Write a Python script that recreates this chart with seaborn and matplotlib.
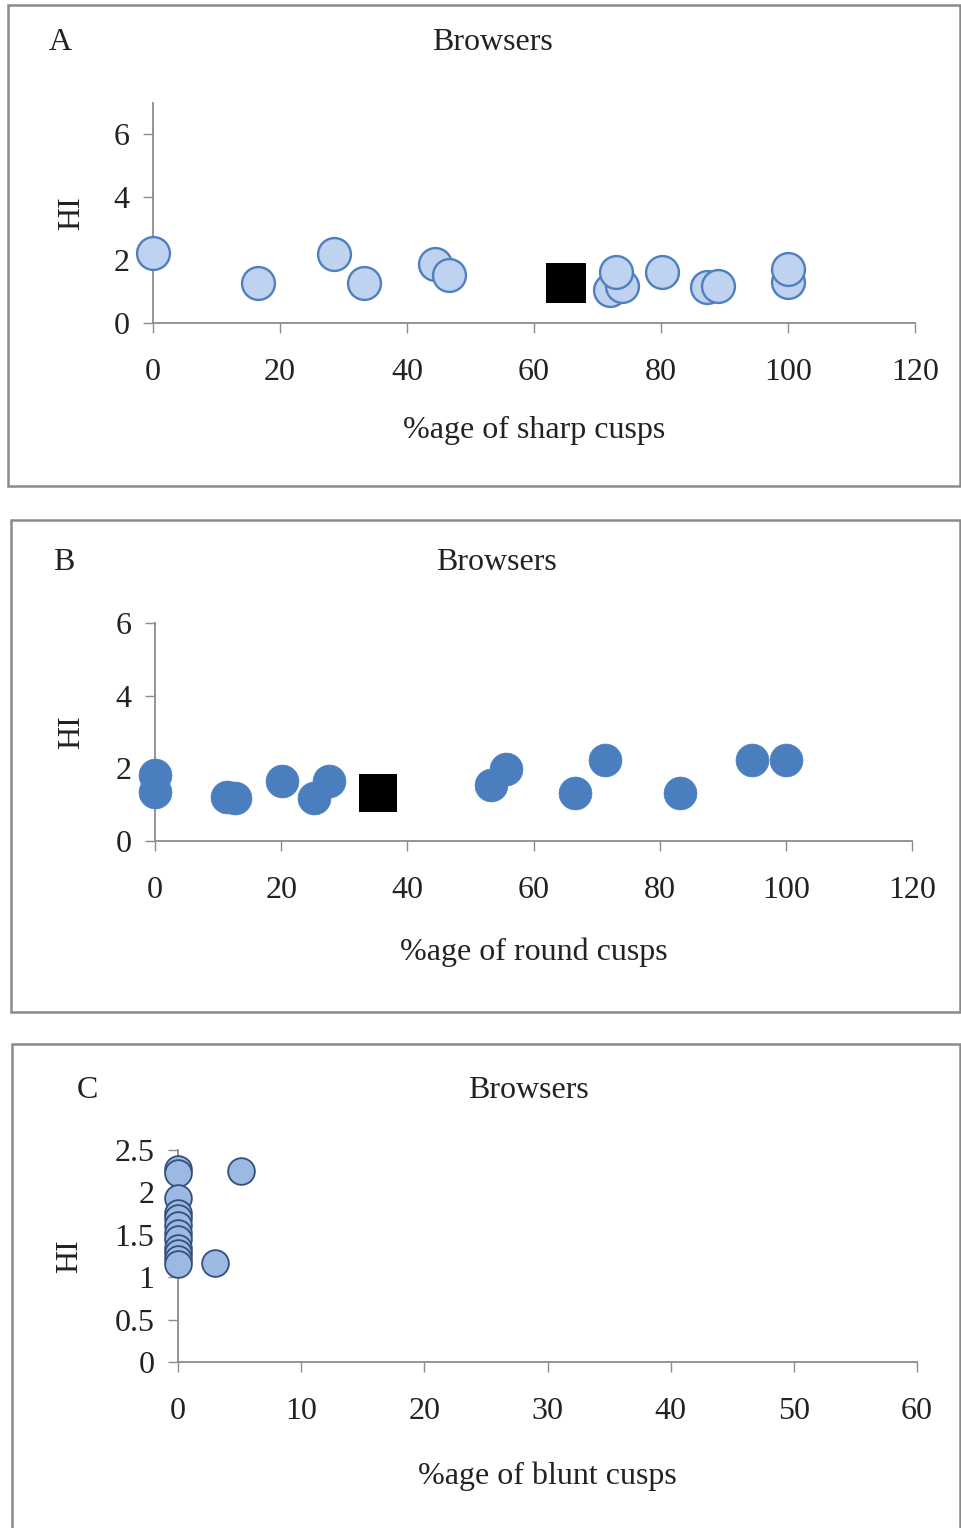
import numpy as np
import pandas as pd
import matplotlib
matplotlib.use("Agg")
import matplotlib.pyplot as plt
import matplotlib.patches as patches
import seaborn as sns

# values
sharp_pct = [0, 16.6, 28.5, 33.3, 44.4, 46.6, 71.9, 73.9, 72.9, 80.1, 87.2, 89.0, 100, 100]
sharp_hi = [2.22, 1.28, 2.18, 1.28, 1.88, 1.54, 1.06, 1.19, 1.62, 1.62, 1.14, 1.19, 1.30, 1.72]
sharp_mean = (65.0, 1.27)

round_pct = [0, 0, 11.4, 12.7, 20.1, 25.2, 27.6, 53.3, 55.7, 66.5, 71.3, 83.2, 94.7, 100]
round_hi = [1.81, 1.35, 1.21, 1.19, 1.65, 1.19, 1.66, 1.54, 1.97, 1.31, 2.24, 1.32, 2.24, 2.24]
round_mean = (35.4, 1.32)

blunt_pct = [0, 0, 0, 0, 0, 0, 0, 0, 0, 0, 0, 0, 3.0, 5.1]
blunt_hi = [2.28, 2.23, 1.93, 1.76, 1.70, 1.62, 1.52, 1.45, 1.35, 1.29, 1.22, 1.16, 1.17, 2.25]

sns.set_style("white")
plt.rcParams['font.family'] = ['Liberation Serif', 'DejaVu Serif']
plt.rcParams['font.size'] = 23

W, H = 961, 1528
fig = plt.figure(figsize=(W / 100, H / 100), dpi=100)


def fx(px):
    return px / W


def fy(py):
    return 1 - py / H


def frame(left, top, bottom, right=960):
    rect = patches.Rectangle((fx(left), fy(bottom)), fx(right) - fx(left), fy(top) - fy(bottom),
                             transform=fig.transFigure, fill=False, edgecolor='#8a8a8a', lw=1.8)
    fig.add_artist(rect)


def style_axes(ax, xlim, ylim, xticks, yticks, xlabel):
    ax.set_xlim(*xlim)
    ax.set_ylim(*ylim)
    ax.set_xticks(xticks)
    ax.set_yticks(yticks)
    ax.set_xticklabels([f"{t:g}" for t in xticks])
    ax.set_yticklabels([f"{t:g}" for t in yticks])
    for s in ['top', 'right']:
        ax.spines[s].set_visible(False)
    for s in ['left', 'bottom']:
        ax.spines[s].set_color('#8c8c8c')
        ax.spines[s].set_linewidth(1.3)
    ax.tick_params(axis='x', direction='out', length=7, width=1, color='#8c8c8c', pad=18,
                   labelcolor='#222222', bottom=True)
    ax.tick_params(axis='y', direction='out', length=7, width=1, color='#8c8c8c', pad=10,
                   labelcolor='#222222', left=True)
    ax.set_xlabel(xlabel, color='#222222', va='center')
    ax.set_ylabel("HI", color='#222222', va='center')
    ax.set_facecolor('none')
    ax.grid(False)


# ---- panel A
frame(8, 5, 486)
axA = fig.add_axes([fx(153), fy(323), fx(915) - fx(153), fy(103) - fy(323)])
dfA = pd.DataFrame({"pct": sharp_pct, "HI": sharp_hi})
sns.scatterplot(data=dfA, x="pct", y="HI", ax=axA, s=560, color='#bfd2ef',
                edgecolor='#4f7fbf', linewidth=1.7, zorder=3, clip_on=False)
sns.scatterplot(x=[sharp_mean[0]], y=[sharp_mean[1]], ax=axA, marker='s', s=830,
                color='black', edgecolor='black', linewidth=0, zorder=4)
style_axes(axA, (0, 120), (0, 7), range(0, 121, 20), range(0, 7, 2), "%age of sharp cusps")
axA.xaxis.set_label_coords(0.5, (323 - 430) / 220)
axA.yaxis.set_label_coords((72 - 153) / 762, 0.5)
fig.text(fx(60), fy(42), "A", ha='center', va='center', color='#222222')
fig.text(fx(492), fy(42), "Browsers", ha='center', va='center', color='#222222')

# ---- panel B
frame(11, 520, 1012)
axB = fig.add_axes([fx(155), fy(841), fx(912) - fx(155), fy(623) - fy(841)])
dfB = pd.DataFrame({"pct": round_pct, "HI": round_hi})
sns.scatterplot(data=dfB, x="pct", y="HI", ax=axB, s=560, color='#4a7ebf',
                edgecolor='#4a7ebf', linewidth=0.5, zorder=3, clip_on=False)
sns.scatterplot(x=[round_mean[0]], y=[round_mean[1]], ax=axB, marker='s', s=720,
                color='black', edgecolor='black', linewidth=0, zorder=4)
style_axes(axB, (0, 120), (0, 6), range(0, 121, 20), range(0, 7, 2), "%age of round cusps")
axB.xaxis.set_label_coords(0.5, (841 - 952) / 218)
axB.yaxis.set_label_coords((72 - 155) / 757, 0.5)
fig.text(fx(64), fy(562), "B", ha='center', va='center', color='#222222')
fig.text(fx(496), fy(562), "Browsers", ha='center', va='center', color='#222222')

# ---- panel C
frame(12, 1044, 1540)
axC = fig.add_axes([fx(178), fy(1362), fx(917) - fx(178), fy(1150) - fy(1362)])
dfC = pd.DataFrame({"pct": blunt_pct, "HI": blunt_hi})
sns.scatterplot(data=dfC, x="pct", y="HI", ax=axC, s=370, color='#9cb9e4',
                edgecolor='#34507a', linewidth=1.3, zorder=3, clip_on=False)
style_axes(axC, (0, 60), (0, 2.5), range(0, 61, 10), [0, 0.5, 1, 1.5, 2, 2.5], "%age of blunt cusps")
axC.xaxis.set_label_coords(0.5, (1362 - 1476) / 212)
axC.yaxis.set_label_coords((70 - 178) / 739, 0.5)
fig.text(fx(87), fy(1090), "C", ha='center', va='center', color='#222222')
fig.text(fx(528), fy(1090), "Browsers", ha='center', va='center', color='#222222')

plt.savefig("out.png", dpi=100)
